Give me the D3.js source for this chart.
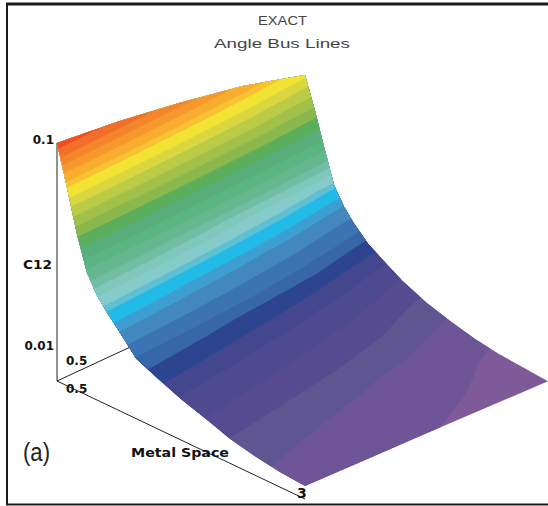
<!DOCTYPE html>
<html>
<head>
<meta charset="utf-8">
<script src="https://cdn.jsdelivr.net/npm/d3@7"></script>
<style>
    html, body { margin: 0; padding: 0; background: #fff; }
    svg { display: block; }
    .tick { font-family: "DejaVu Sans"; font-weight: bold; font-size: 12px; fill: #111; }
    .title { font-family: "Liberation Sans"; font-size: 13.5px; fill: #444; }
</style>
</head>
<body>
<div id="chart"></div>
<script>
    var metalSpace = [0.5, 0.6, 0.7, 0.8, 0.9, 1, 1.15, 1.3, 1.5, 1.75, 2, 2.25, 2.5, 2.75, 3];
    var metalWidth = [0.5, 1.125, 1.75, 2.375, 3];

    // C12, one list per metal width
    var c12Width050 = [0.1, 0.0638, 0.0398, 0.027, 0.022, 0.0191, 0.0159, 0.01315, 0.0119, 0.0106, 0.00966, 0.00875, 0.00824, 0.00787, 0.0077];
    var c12Width112 = [0.0923, 0.0599, 0.0378, 0.0256, 0.0211, 0.01823, 0.01521, 0.01278, 0.01151, 0.01025, 0.00935, 0.00845, 0.00798, 0.00765, 0.00748];
    var c12Width175 = [0.0823, 0.0545, 0.0351, 0.0237, 0.02, 0.01713, 0.01439, 0.0123, 0.01106, 0.00985, 0.00898, 0.00815, 0.00774, 0.00745, 0.00728];
    var c12Width237 = [0.0717, 0.0488, 0.0321, 0.0215, 0.0186, 0.01586, 0.01338, 0.01173, 0.01051, 0.00935, 0.00855, 0.00782, 0.00746, 0.00725, 0.00706];
    var c12Width300 = [0.0585, 0.0414, 0.0282, 0.0195, 0.0162, 0.01416, 0.0121, 0.01094, 0.0096, 0.00855, 0.0079, 0.0074, 0.00712, 0.00698, 0.00685];

    var bandLimits = [0.001, 0.00723, 0.008, 0.0088, 0.0097, 0.0107, 0.0115, 0.0124, 0.0133, 0.0147, 0.0163, 0.0175, 0.0191, 0.02, 0.0217, 0.0232, 0.0249, 0.0276, 0.0305, 0.0343, 0.0384, 0.0425, 0.0471, 0.0522, 0.0571, 0.0634, 0.0671, 0.0734, 0.0796, 0.0863, 0.0944];
    var bandColors = ["#7e5a99", "#6e5597", "#5f5591", "#564a91", "#4e4a90", "#44478e", "#2d4490", "#3767a7", "#3c74b3", "#4287bd", "#3d9fd1", "#22bbe8", "#5fc0d3", "#84cbc9", "#80c8bb", "#72bea5", "#66b68f", "#5ab580", "#5aae7c", "#5bae5b", "#8ab84c", "#a2c14a", "#bccb45", "#d9d63f", "#f1e234", "#f9c232", "#f9ad30", "#f7982d", "#f5852b", "#f36d2b", "#f04e24"];

    var zTicks = [0.1, 0.01];
    var zTickDy = [1, 5];

    var WIDTH = 548, HEIGHT = 506;

    var c12Rows = [c12Width050, c12Width112, c12Width175, c12Width237, c12Width300];
    var NX = metalSpace.length, NY = metalWidth.length;

    var svg = d3.select("#chart").append("svg").attr("width", WIDTH).attr("height", HEIGHT);

    // oblique projection of the box
    var spaceX = d3.scaleLinear().domain([0.5, 3]).range([57, 305]);
    var spaceY = d3.scaleLinear().domain([0.5, 3]).range([381, 499]);
    var widthX = d3.scaleLinear().domain([0.5, 3]).range([0, 248]);
    var widthY = d3.scaleLinear().domain([0.5, 3]).range([0, -115]);
    var zHeight = d3.scaleLog().domain([0.01, 0.1]).range([36, 238]);

    // grid index -> axis value
    var colToSpace = d3.scaleLinear().domain(d3.range(NX)).range(metalSpace).clamp(true);
    var rowToWidth = d3.scaleLinear().domain(d3.range(NY)).range(metalWidth).clamp(true);

    function project(space, width, c12){
        var shrink = 1 - 0.02 * (width - 0.5) / 2.5;
        var x = 57 + (spaceX(space) - 57) * shrink + widthX(width);
        var y = spaceY(space) + widthY(width) - zHeight(c12);
        return [x, y];
    }
    function floorPoint(space, width){
        return [spaceX(space) + widthX(width), spaceY(space) + widthY(width)];
    }

    var logGrid = [];
    c12Rows.forEach(function(row){
        row.forEach(function(v){ logGrid.push(Math.log10(v)); });
    });

    function logAt(col, row){
        var c0 = Math.max(0, Math.min(NX - 2, Math.floor(col)));
        var r0 = Math.max(0, Math.min(NY - 2, Math.floor(row)));
        var fx = col - c0, fy = row - r0;
        var a = logGrid[r0 * NX + c0], b = logGrid[r0 * NX + c0 + 1];
        var c = logGrid[(r0 + 1) * NX + c0], d = logGrid[(r0 + 1) * NX + c0 + 1];
        return (a * (1 - fx) + b * fx) * (1 - fy) + (c * (1 - fx) + d * fx) * fy;
    }

    function toScreen(p){
        var col = Math.max(0, Math.min(NX - 1, p[0] - 0.5));
        var row = Math.max(0, Math.min(NY - 1, p[1] - 0.5));
        return project(colToSpace(col), rowToWidth(row), Math.pow(10, logAt(col, row)));
    }

    var contours = d3.contours()
        .size([NX, NY])
        .smooth(true)
        .thresholds(bandLimits.map(function(v){ return Math.log10(v); }))(logGrid);

    var ringLine = d3.line();

    // box edges go under the surface
    var axes = svg.append("g").attr("stroke", "#222").attr("stroke-width", 1).attr("fill", "none");
    var origin = floorPoint(0.5, 0.5);
    axes.append("line").attr("x1", origin[0]).attr("y1", origin[1]).attr("x2", origin[0]).attr("y2", origin[1] - zHeight(0.1));
    axes.append("line").attr("x1", origin[0]).attr("y1", origin[1]).attr("x2", floorPoint(3, 0.5)[0]).attr("y2", floorPoint(3, 0.5)[1]);
    axes.append("line").attr("x1", origin[0]).attr("y1", origin[1]).attr("x2", floorPoint(0.5, 3)[0]).attr("y2", floorPoint(0.5, 3)[1]);

    svg.append("g").selectAll("path").data(contours).enter().append("path")
        .attr("fill", function(d, i){ return bandColors[i]; })
        .attr("d", function(d){
            var s = "";
            d.coordinates.forEach(function(poly){
                poly.forEach(function(ring){
                    s += ringLine(ring.map(toScreen)) + "Z";
                });
            });
            return s;
        });

    // z ticks
    svg.selectAll("text.z").data(zTicks).enter().append("text")
        .attr("class", "tick z")
        .attr("x", 54)
        .attr("y", function(d, i){ return origin[1] - zHeight(d) + zTickDy[i]; })
        .attr("text-anchor", "end")
        .text(function(d){ return d; });

    function label(text, x, y, cls){
        return svg.append("text").attr("class", cls || "tick").attr("x", x).attr("y", y).text(text);
    }
    label("C12", 23, 269).attr("textLength", 29).attr("lengthAdjust", "spacingAndGlyphs");
    label("0.5", 66, 365);
    label("0.5", 66, 393);
    label("3", 297, 498).style("font-size", "14px");
    label("Metal Space", 131, 457).style("font-size", "13px").attr("textLength", 98).attr("lengthAdjust", "spacingAndGlyphs");

    label("EXACT", 258, 25, "title").attr("textLength", 49).attr("lengthAdjust", "spacingAndGlyphs");
    label("Angle Bus Lines", 214, 48, "title").attr("textLength", 136).attr("lengthAdjust", "spacingAndGlyphs");

    label("(a)", 23, 461, "panel")
        .attr("textLength", 27).attr("lengthAdjust", "spacingAndGlyphs")
        .style("font-family", "'Liberation Sans'")
        .style("font-size", "25px")
        .style("fill", "#222");

    // frame, open on the right
    var frame = svg.append("g").attr("stroke", "#1a1a1a").attr("fill", "none");
    frame.append("line").attr("x1", 6).attr("y1", 4).attr("x2", WIDTH).attr("y2", 4).attr("stroke-width", 3);
    frame.append("line").attr("x1", 7).attr("y1", 3).attr("x2", 7).attr("y2", 505).attr("stroke-width", 2);
    frame.append("line").attr("x1", 6).attr("y1", 504.5).attr("x2", WIDTH).attr("y2", 504.5).attr("stroke-width", 2);
</script>
</body>
</html>
